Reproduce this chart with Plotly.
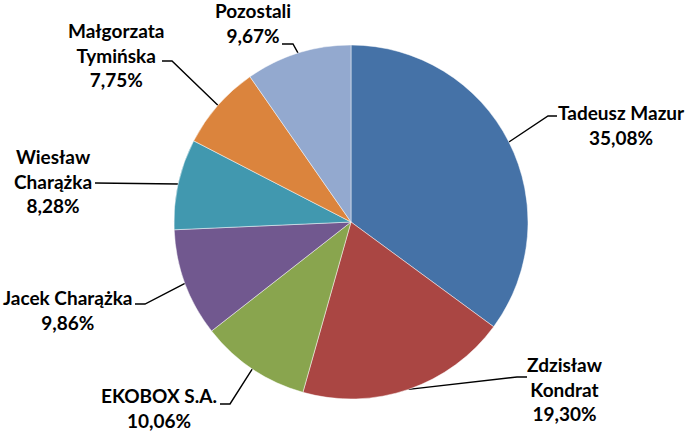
import math
import plotly.graph_objects as go

W, H = 692, 431

# data
names = ['Tadeusz Mazur', 'Zdzisław<br>Kondrat', 'EKOBOX S.A.', 'Jacek Charążka',
         'Wiesław<br>Charążka', 'Małgorzata<br>Tymińska', 'Pozostali']
shares = [35.08, 19.30, 10.06, 9.86, 8.28, 7.75, 9.67]
colors = ['#4572A7', '#AA4643', '#89A54E', '#71588F', '#4198AF', '#DB843D', '#93A9CF']

# label placement (pixels): text centre, and elbow / end of leader line
label_xy = [(621, 125), (565, 389), (159, 408), (67, 310), (53, 181), (116, 55), (253, 23)]
elbow_xy = [(548, 116), (517, 377), (230, 404), (145, 304), (105, 183), (172, 61), (293, 44)]
end_xy = [(557, 116), (527, 377), (220, 404), (135, 304), (95, 183), (162, 61), (282, 44)]

cx, cy, r = 351, 222, 177

fig = go.Figure()
fig.add_trace(go.Pie(
    values=shares, labels=[n.replace('<br>', ' ') for n in names],
    sort=False, direction='clockwise', rotation=0,
    marker=dict(colors=colors, line=dict(color='rgba(255,255,255,0.6)', width=0.8)),
    textinfo='none', hoverinfo='label+percent', showlegend=False,
    domain=dict(x=[(cx - r) / W, (cx + r) / W], y=[1 - (cy + r) / H, 1 - (cy - r) / H]),
))

total = sum(shares)
cum = 0
for i, v in enumerate(shares):
    ang = 2 * math.pi * (cum + v / 2) / total
    cum += v
    px_ = cx + r * math.sin(ang)
    py_ = cy - r * math.cos(ang)
    fig.add_trace(go.Scatter(
        x=[px_, elbow_xy[i][0], end_xy[i][0]], y=[py_, elbow_xy[i][1], end_xy[i][1]],
        mode='lines', line=dict(color='black', width=1.4),
        hoverinfo='skip', showlegend=False,
    ))
    pct = f'{v:.2f}'.replace('.', ',') + '%'
    fig.add_annotation(
        x=label_xy[i][0], y=label_xy[i][1], xref='x', yref='y',
        text=f'{names[i]}<br>{pct}', showarrow=False,
        font=dict(family='Lato', size=19, color='black', weight='bold'),
        align='center', xanchor='center', yanchor='middle',
    )

fig.update_xaxes(range=[0, W], visible=False, fixedrange=True)
fig.update_yaxes(range=[H, 0], visible=False, fixedrange=True)
fig.update_layout(
    width=W, height=H, margin=dict(l=0, r=0, t=0, b=0),
    paper_bgcolor='white', plot_bgcolor='rgba(0,0,0,0)',
)

# page body has a default 8px margin; drop it so the figure sits at 0,0
fig.write_html('out.html', config={'displayModeBar': False},
               post_script="document.body.style.margin='0';")
